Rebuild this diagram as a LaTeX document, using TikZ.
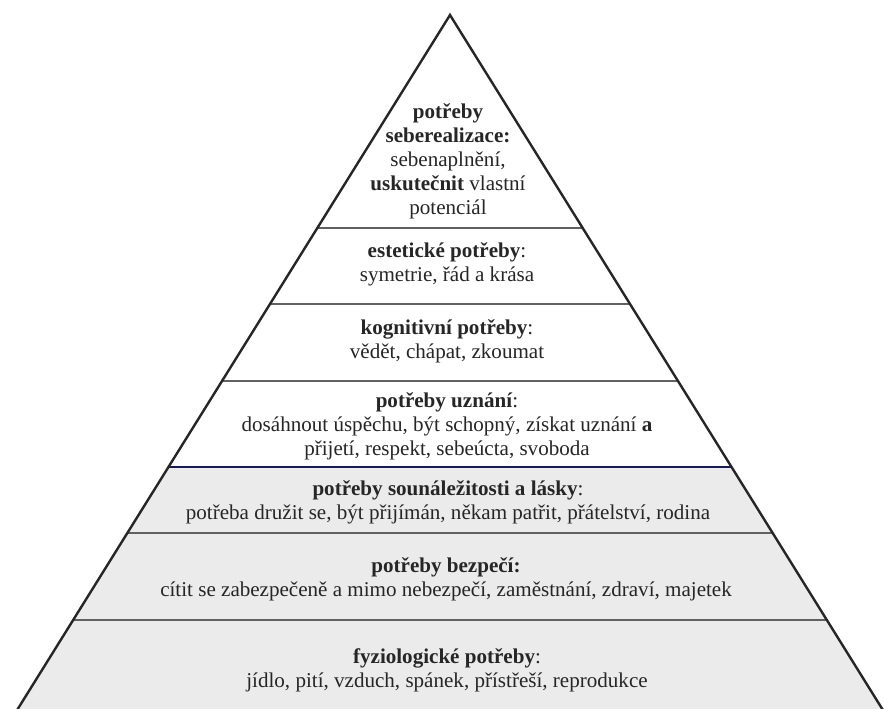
\documentclass[tikz,border=0pt]{standalone}
\usepackage{fontspec}
\setmainfont{Liberation Serif}
\begin{document}
\begin{tikzpicture}[x=0.75pt,y=-0.75pt,
  edge/.style={line width=1.8pt, draw=black!85, line join=miter},
  sep/.style={line width=2pt, draw=black!62},
  lbl/.style={align=center, font=\fontsize{15.8pt}{18pt}\selectfont, text=black!85, inner sep=0pt}]
\useasboundingbox (0,0) rectangle (884,709);
\clip (0,0) rectangle (884,709);
\fill[white] (0,0) rectangle (884,709);
% grey lower part
\fill[black!8] (168.4,467) -- (731.6,467) -- (886,715) -- (14,715) -- cycle;
% separators
\draw[sep] (317.3,228) -- (582.7,228);
\draw[sep] (270.0,304) -- (630.0,304);
\draw[sep] (222.0,381) -- (678.0,381);
\draw[sep,draw=black!70!blue!90] (168.4,467) -- (731.6,467);
\draw[sep] (127.3,533) -- (772.7,533);
\draw[sep] (73.1,620) -- (826.9,620);
% pyramid edges
\draw[edge] (14,715) -- (450,15) -- (886,715);
% labels
\node[lbl] (self) at (448,161) {\textbf{potřeby}\\\textbf{seberealizace:}\\sebenaplnění,\\\textbf{uskutečnit} vlastní\\potenciál};
\node[lbl] (est) at (447,264) {\textbf{estetické potřeby}:\\symetrie, řád a krása};
\node[lbl] (kog) at (447,341) {\textbf{kognitivní potřeby}:\\vědět, chápat, zkoumat};
\node[lbl] (uzn) at (447,426) {\textbf{potřeby uznání}:\\dosáhnout úspěchu, být schopný, získat uznání \textbf{a}\\přijetí, respekt, sebeúcta, svoboda};
\node[lbl] (lask) at (448,502) {\textbf{potřeby sounáležitosti a lásky}:\\potřeba družit se, být přijímán, někam patřit, přátelství, rodina};
\node[lbl] (bez) at (446,579) {\textbf{potřeby bezpečí:}\\cítit se zabezpečeně a mimo nebezpečí, zaměstnání, zdraví, majetek};
\node[lbl] (fyz) at (447,670) {\textbf{fyziologické potřeby}:\\jídlo, pití, vzduch, spánek, přístřeší, reprodukce};
\end{tikzpicture}
\end{document}
